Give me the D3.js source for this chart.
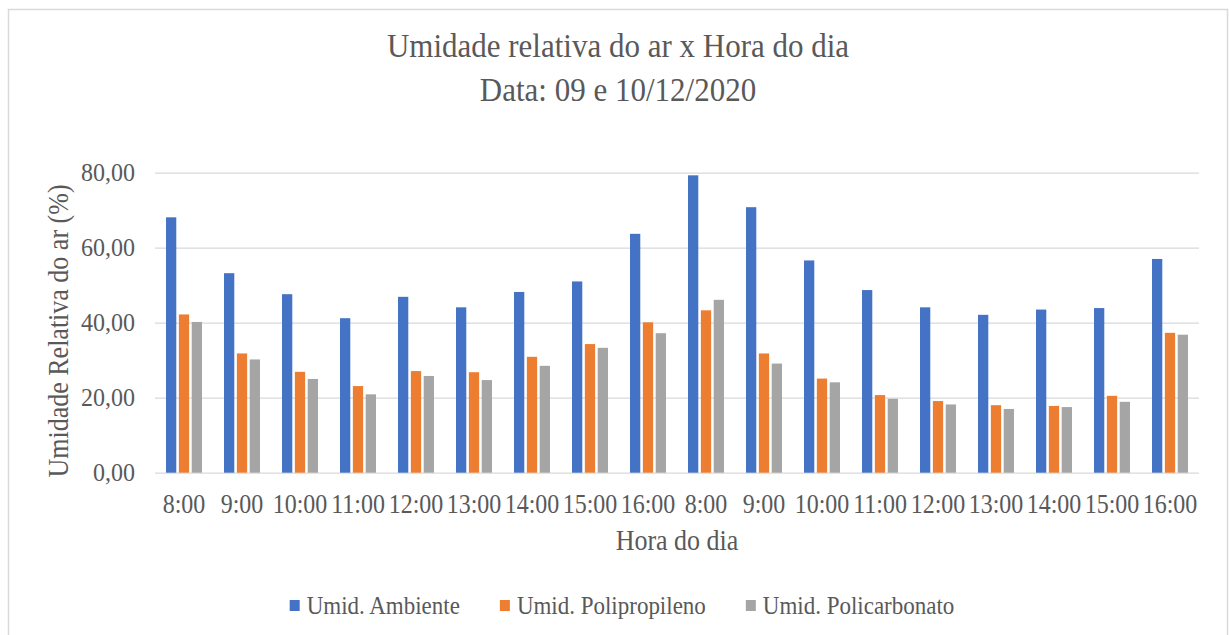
<!DOCTYPE html>
<html>
<head>
<meta charset="utf-8">
<script src="https://cdn.jsdelivr.net/npm/d3@7"></script>
<style>
  body { margin: 0; background: #fff; }
  svg { display: block; }
</style>
</head>
<body>
<div id="chart"></div>
<script>
// dados
const categories = ["8:00", "9:00", "10:00", "11:00", "12:00", "13:00", "14:00", "15:00", "16:00",
                    "8:00", "9:00", "10:00", "11:00", "12:00", "13:00", "14:00", "15:00", "16:00"];
const ambiente = [68.1, 53.2, 47.6, 41.2, 46.9, 44.1, 48.2, 51.0, 63.7,
                  79.3, 70.8, 56.6, 48.7, 44.1, 42.1, 43.5, 43.9, 57.0];
const polipropileno = [42.2, 31.8, 26.9, 23.1, 27.1, 26.8, 30.9, 34.3, 40.1,
                       43.3, 31.8, 25.1, 20.7, 19.1, 18.0, 17.8, 20.5, 37.3];
const policarbonato = [40.2, 30.2, 25.0, 20.9, 25.8, 24.7, 28.5, 33.3, 37.2,
                       46.1, 29.1, 24.1, 19.7, 18.2, 17.0, 17.5, 18.9, 36.8];
const seriesNames = ["Umid. Ambiente", "Umid. Polipropileno", "Umid. Policarbonato"];
const yTicks = [0, 20, 40, 60, 80];

const width = 1229;
const height = 635;
const margin = { top: 172.7, right: 30, bottom: 162.3, left: 155 };
const font = "'Liberation Serif', 'Times New Roman', serif";
const textColor = "#595959";
const gridColor = "#d9d9d9";
const colors = ["#4472C4", "#ED7D31", "#A5A5A5"];
const stretch = 1.1; // o texto da figura original é um pouco mais alto que largo

const series = [ambiente, polipropileno, policarbonato];

const svg = d3.select("#chart").append("svg")
    .attr("width", width)
    .attr("height", height)
    .style("font-family", font);

// moldura do gráfico
svg.append("rect")
    .attr("x", 8.5)
    .attr("y", 9.5)
    .attr("width", 1219)
    .attr("height", 660)
    .attr("fill", "none")
    .attr("stroke", gridColor)
    .attr("stroke-width", 1.5);

// título
const title = svg.append("text")
    .attr("transform", `translate(618,57) scale(1,${stretch})`)
    .attr("text-anchor", "middle")
    .attr("fill", textColor)
    .style("font-size", "31px");
title.append("tspan").attr("x", 0).attr("y", 0).text("Umidade relativa do ar x Hora do dia");
title.append("tspan").attr("x", 0).attr("y", 44 / stretch).text("Data: 09 e 10/12/2020");

const x0 = d3.scaleBand()
    .domain(d3.range(categories.length))
    .range([margin.left, width - margin.right])
    .paddingInner(0.38)
    .paddingOuter(0.19);

const x1 = d3.scaleBand()
    .domain(d3.range(series.length))
    .range([0, x0.bandwidth()])
    .paddingInner(0.2);

const y = d3.scaleLinear()
    .domain([0, 80])
    .range([height - margin.bottom, margin.top]);

const locale = d3.formatLocale({ decimal: ",", thousands: ".", grouping: [3], currency: ["R$", ""] });
const fmt = locale.format(".2f");

// linhas de grade + rótulos do eixo Y
const yAxis = svg.append("g")
    .attr("transform", `translate(${margin.left},0)`)
    .call(d3.axisLeft(y)
        .tickValues(yTicks)
        .tickSize(-(width - margin.left - margin.right))
        .tickPadding(20)
        .tickFormat(fmt));
yAxis.select(".domain").remove();
yAxis.selectAll(".tick line")
    .attr("stroke", gridColor)
    .attr("stroke-width", 1.3);
yAxis.selectAll(".tick text")
    .attr("fill", textColor)
    .attr("transform", "scale(1,1.04)")
    .style("font-family", font)
    .style("font-size", "24px");

// barras
const groups = svg.append("g")
    .selectAll("g")
    .data(categories.map((c, i) => i))
    .enter()
    .append("g")
    .attr("transform", i => `translate(${x0(i)},0)`);

groups.selectAll("rect")
    .data(i => series.map((s, k) => ({ k, value: s[i] })))
    .enter()
    .append("rect")
    .attr("x", d => x1(d.k))
    .attr("y", d => y(d.value))
    .attr("width", x1.bandwidth())
    .attr("height", d => y(0) - y(d.value))
    .attr("fill", d => colors[d.k]);

// eixo X
const xAxis = svg.append("g")
    .attr("transform", `translate(0,${y(0)})`)
    .call(d3.axisBottom(x0)
        .tickSize(0)
        .tickPadding(19.5)
        .tickFormat(i => categories[i]));
xAxis.select(".domain").remove();
xAxis.selectAll(".tick text")
    .attr("fill", textColor)
    .attr("transform", `scale(1,${stretch})`)
    .style("font-family", font)
    .style("font-size", "24px");

// títulos dos eixos
svg.append("text")
    .attr("transform", `translate(677,550) scale(1,${stretch})`)
    .attr("text-anchor", "middle")
    .attr("fill", textColor)
    .style("font-size", "26px")
    .text("Hora do dia");

svg.append("text")
    .attr("transform", `translate(68,331) rotate(-90) scale(1,${stretch})`)
    .attr("text-anchor", "middle")
    .attr("fill", textColor)
    .style("font-size", "26px")
    .text("Umidade Relativa do ar (%)");

// legenda
const legend = svg.append("g");
let cursor = 0;
seriesNames.forEach((name, k) => {
    const item = legend.append("g").attr("transform", `translate(${cursor},0)`);
    item.append("rect")
        .attr("x", 0)
        .attr("y", 600)
        .attr("width", 10)
        .attr("height", 11)
        .attr("fill", colors[k]);
    const t = item.append("text")
        .attr("transform", `translate(17,614) scale(1,${stretch})`)
        .attr("fill", textColor)
        .style("font-size", "23px")
        .text(name);
    cursor += 17 + t.node().getComputedTextLength() + 40;
});
const legendWidth = cursor - 40;
legend.attr("transform", `translate(${622 - legendWidth / 2},0)`);
</script>
</body>
</html>
